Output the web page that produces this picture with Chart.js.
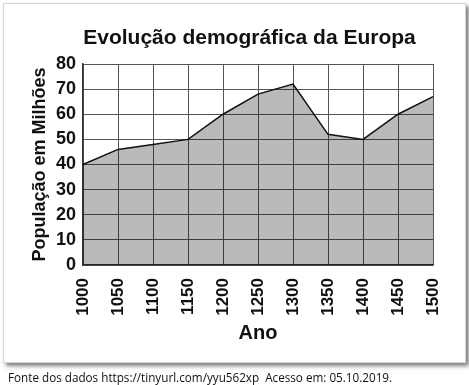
<!DOCTYPE html>
<html>
<head>
<meta charset="utf-8">
<script src="https://cdn.jsdelivr.net/npm/chart.js@4"></script>
<style>
  body { margin: 0; background: #fff; width: 469px; height: 385px; position: relative; overflow: hidden; }
  .box { position: absolute; left: 3px; top: 3px; width: 461px; height: 358px; border: 1px solid #d4d4d4; box-shadow: 3px 3px 4px rgba(0,0,0,0.5); background: #fff; }
  .wrap { position: absolute; left: 0; top: 0; width: 469px; height: 385px; }
  h1 { position: absolute; left: 0; width: 499px; top: 25px; margin: 0; text-align: center; font: bold 21px "Liberation Sans", Arial, sans-serif; color: #111; }
  .fonte { position: absolute; left: 8px; top: 369px; margin: 0; font: 11.7px "Open Sans", sans-serif; color: #111; white-space: pre; }
</style>
</head>
<body>
<div class="box"></div>
<div class="wrap"><canvas id="chart" width="469" height="385"></canvas></div>
<h1>Evolução demográfica da Europa</h1>
<p class="fonte">Fonte dos dados https://tinyurl.com/yyu562xp  Acesso em: 05.10.2019.</p>
<script>
// Dados
const anos = ['1000', '1050', '1100', '1150', '1200', '1250', '1300', '1350', '1400', '1450', '1500'];
const populacao = [40, 46, 48, 50, 60, 68, 72, 52, 50, 60, 67];
const yMin = 0, yMax = 80, yStep = 10;

const fontBold = (size) => ({ family: '"Liberation Sans", Arial, sans-serif', size, weight: 'bold' });

new Chart(document.getElementById('chart'), {
    type: 'line',
    data: {
        labels: anos,
        datasets: [{
            data: populacao,
            borderColor: '#111',
            borderWidth: 1.5,
            backgroundColor: 'rgba(0,0,0,0.27)',
            fill: 'origin',
            tension: 0,
            pointRadius: 0
        }]
    },
    options: {
        responsive: false,
        animation: false,
        layout: { padding: { top: 64, right: 36, bottom: 0, left: 0 } },
        plugins: { legend: { display: false }, tooltip: { enabled: false }, title: { display: false } },
        scales: {
            x: {
                grid: { color: '#555', lineWidth: 1, drawTicks: false },
                border: { color: '#333', width: 1.5 },
                ticks: { color: '#111', font: fontBold(17), minRotation: 90, maxRotation: 90, autoSkip: false, padding: 13 },
                title: { display: true, text: 'Ano', color: '#111', font: fontBold(20), padding: { top: 0, bottom: 40 } },
                afterFit: (scale) => { scale.height = 120; }
            },
            y: {
                min: yMin, max: yMax,
                grid: { color: '#555', lineWidth: 1, drawTicks: false },
                border: { color: '#333', width: 1.5 },
                ticks: { stepSize: yStep, color: '#111', font: fontBold(18), padding: 7 },
                title: { display: true, text: 'População em Milhões', color: '#111', font: fontBold(18), padding: { top: 29, bottom: 0 } },
                afterFit: (scale) => { scale.width = 83; }
            }
        }
    }
});
</script>
</body>
</html>
